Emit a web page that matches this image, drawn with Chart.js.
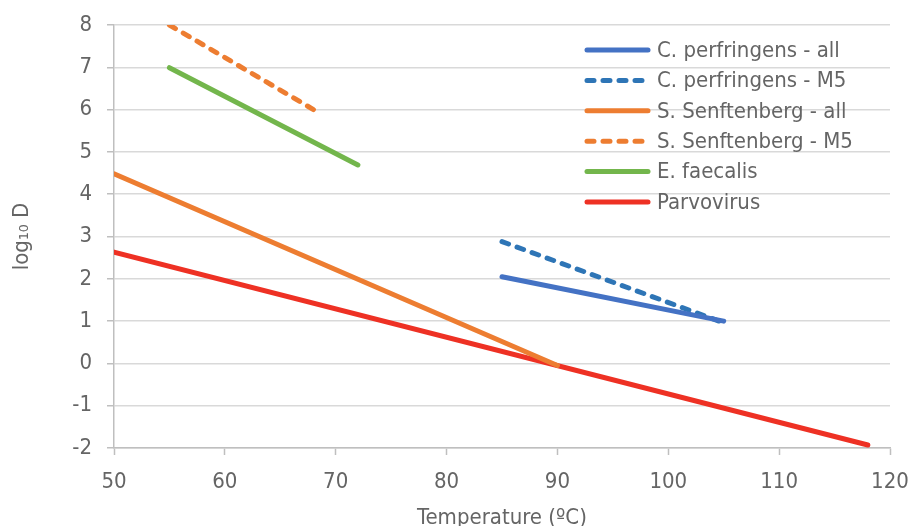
<!DOCTYPE html>
<html>
<head>
<meta charset="utf-8">
<script src="https://cdn.jsdelivr.net/npm/chart.js@4.4.1/dist/chart.umd.min.js"></script>
<style>
  html, body { margin: 0; padding: 0; background: #fff; }
  #wrap { width: 912px; height: 526px; }
</style>
</head>
<body>
<div id="wrap"><canvas id="chart" width="912" height="526"></canvas></div>
<script>
// series endpoints (temperature °C -> log10 D)
const cPerfAllX = [85, 105];
const cPerfAllY = [2.05, 1.0];
const cPerfM5X = [85, 105];
const cPerfM5Y = [2.88, 0.96];
const sSenAllX = [50, 90];
const sSenAllY = [4.48, -0.05];
const sSenM5X = [55, 68];
const sSenM5Y = [8.0, 6.0];
const eFaecX = [55, 72];
const eFaecY = [6.99, 4.69];
const parvoX = [50, 118];
const parvoY = [2.63, -1.93];

const seriesNames = ['C. perfringens - all', 'C. perfringens - M5', 'S. Senftenberg - all',
  'S. Senftenberg - M5', 'E. faecalis', 'Parvovirus'];
const xTicks = [50, 60, 70, 80, 90, 100, 110, 120];
const yTicks = [-2, -1, 0, 1, 2, 3, 4, 5, 6, 7, 8];

const FONT = "'DejaVu Sans Condensed', 'DejaVu Sans', sans-serif";
const textColor = '#656565';

function pts(xs, ys) {
  return xs.map((x, i) => ({ x: x, y: ys[i] }));
}

function line(label, xs, ys, color, dashed) {
  return {
    label: label,
    data: pts(xs, ys),
    borderColor: color,
    backgroundColor: color,
    borderWidth: 5,
    borderDash: dashed ? [7, 9] : [],
    borderCapStyle: 'round',
    showLine: true,
    pointRadius: 0,
    pointHoverRadius: 0,
    fill: false
  };
}

// legend drawn inside the plot, top right
const insideLegend = {
  id: 'insideLegend',
  afterDatasetsDraw(chart) {
    const ctx = chart.ctx;
    const area = chart.chartArea;
    const x0 = area.right - 305;
    const y0 = area.top + 25;
    const step = 30.4;
    ctx.save();
    chart.data.datasets.forEach((ds, i) => {
      const y = y0 + i * step;
      ctx.strokeStyle = ds.borderColor;
      ctx.lineWidth = 5;
      ctx.lineCap = 'round';
      ctx.setLineDash(ds.borderDash || []);
      ctx.beginPath();
      ctx.moveTo(x0 + 2, y);
      ctx.lineTo(x0 + 63, y);
      ctx.stroke();
      ctx.setLineDash([]);
      ctx.fillStyle = textColor;
      ctx.font = '22px ' + FONT;
      ctx.textBaseline = 'middle';
      ctx.textAlign = 'left';
      ctx.fillText(ds.label, x0 + 72, y + 1);
    });
    ctx.restore();
  }
};

const ctx = document.getElementById('chart').getContext('2d');
new Chart(ctx, {
  type: 'scatter',
  data: {
    datasets: [
      line(seriesNames[0], cPerfAllX, cPerfAllY, '#4472C4', false),
      line(seriesNames[1], cPerfM5X, cPerfM5Y, '#2E75B6', true),
      line(seriesNames[2], sSenAllX, sSenAllY, '#ED7D31', false),
      line(seriesNames[3], sSenM5X, sSenM5Y, '#ED7D31', true),
      line(seriesNames[4], eFaecX, eFaecY, '#73B64C', false),
      line(seriesNames[5], parvoX, parvoY, '#EE3124', false)
    ]
  },
  options: {
    responsive: false,
    animation: false,
    layout: { padding: { top: 25, right: 22, bottom: 0, left: 0 } },
    plugins: {
      legend: { display: false },
      tooltip: { enabled: false }
    },
    scales: {
      x: {
        type: 'linear',
        min: 50,
        max: 120,
        afterBuildTicks: s => { s.ticks = xTicks.map(v => ({ value: v })); },
        afterFit: s => { s.height = 78; s.paddingLeft = 0; s.paddingRight = 0; },
        grid: { drawOnChartArea: false, drawTicks: true, tickLength: 7, tickColor: '#bfbfbf', tickWidth: 1.5 },
        border: { display: true, color: '#bfbfbf', width: 1.5 },
        ticks: { color: textColor, font: { family: FONT, size: 22 }, padding: 14, maxRotation: 0 },
        title: {
          display: true,
          text: 'Temperature (ºC)',
          color: textColor,
          font: { family: FONT, size: 22 },
          padding: { top: 0, bottom: -5 }
        }
      },
      y: {
        type: 'linear',
        min: -2,
        max: 8,
        afterBuildTicks: s => { s.ticks = yTicks.map(v => ({ value: v })); },
        afterFit: s => { s.width = 114; s.paddingTop = 0; s.paddingBottom = 0; },
        grid: { color: '#d9d9d9', lineWidth: 1.5, drawTicks: true, tickLength: 7, tickColor: '#bfbfbf', tickWidth: 1.5 },
        border: { display: true, color: '#bfbfbf', width: 1.5 },
        ticks: { color: textColor, font: { family: FONT, size: 22 }, padding: 15 },
        title: {
          display: true,
          text: 'log₁₀ D',
          color: textColor,
          font: { family: FONT, size: 22 },
          padding: { top: 9, bottom: 0 }
        }
      }
    }
  },
  plugins: [insideLegend]
});
</script>
</body>
</html>
